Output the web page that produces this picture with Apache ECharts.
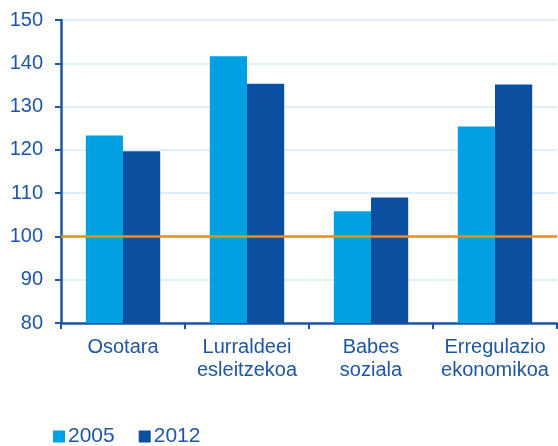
<!DOCTYPE html>
<html>
<head>
<meta charset="utf-8">
<style>
  html, body { margin: 0; padding: 0; background: #ffffff; }
  #chart { width: 558px; height: 446px; }
</style>
<script src="https://cdn.jsdelivr.net/npm/echarts@6/dist/echarts.min.js"></script>
</head>
<body>
<div id="chart"></div>
<script>
// Categories and values (index, reference = 100)
const categories = ['Osotara', 'Lurraldeei\nesleitzekoa', 'Babes\nsoziala', 'Erregulazio\nekonomikoa'];
const values2005 = [123.3, 141.6, 105.8, 125.4];
const values2012 = [119.7, 135.3, 109.0, 135.1];
const seriesNames = ['2005', '2012'];
const referenceLevel = 100;
const yMin = 80, yMax = 150, yStep = 10;

const axisBlue = '#1b55a5';
const textBlue = '#1f56a4';
const font = 'Liberation Sans, Arial, sans-serif';

const chart = echarts.init(document.getElementById('chart'), null, { renderer: 'canvas' });

chart.setOption({
  animation: false,
  textStyle: { fontFamily: font },
  grid: { left: 61, right: 1, top: 20, bottom: 123, containLabel: false },
  legend: {
    left: 48,
    top: 421,
    itemWidth: 12,
    itemHeight: 12,
    itemGap: 24,
    icon: 'rect',
    textStyle: { color: textBlue, fontSize: 21, fontFamily: font, padding: [0, 0, 0, -2] },
    data: seriesNames
  },
  xAxis: {
    type: 'category',
    data: categories,
    axisLine: { lineStyle: { color: axisBlue, width: 2.5 } },
    axisTick: { show: true, interval: 0, length: 6, lineStyle: { color: axisBlue, width: 2 } },
    axisLabel: { interval: 0, color: textBlue, fontSize: 20, fontFamily: font, margin: 13, lineHeight: 23 },
    splitLine: { show: false }
  },
  yAxis: {
    type: 'value',
    min: yMin,
    max: yMax,
    interval: yStep,
    axisLine: { show: true, lineStyle: { color: axisBlue, width: 2.5 } },
    axisTick: { show: true, length: 6, lineStyle: { color: axisBlue, width: 2 } },
    axisLabel: { color: textBlue, fontSize: 20, fontFamily: font, margin: 18 },
    splitLine: { show: true, lineStyle: { color: '#d2eaf7', width: 1.5 } }
  },
  series: [
    {
      name: seriesNames[0],
      type: 'bar',
      data: values2005,
      barGap: '0%',
      barCategoryGap: '40%',
      itemStyle: { color: '#00a0e3' },
      markLine: {
        silent: true,
        symbol: 'none',
        label: { show: false },
        lineStyle: { color: '#f08a24', width: 2.5, type: 'solid' },
        data: [{ yAxis: referenceLevel }],
        z: 5
      }
    },
    {
      name: seriesNames[1],
      type: 'bar',
      data: values2012,
      itemStyle: { color: '#0a4fa0' }
    }
  ]
});
</script>
</body>
</html>
